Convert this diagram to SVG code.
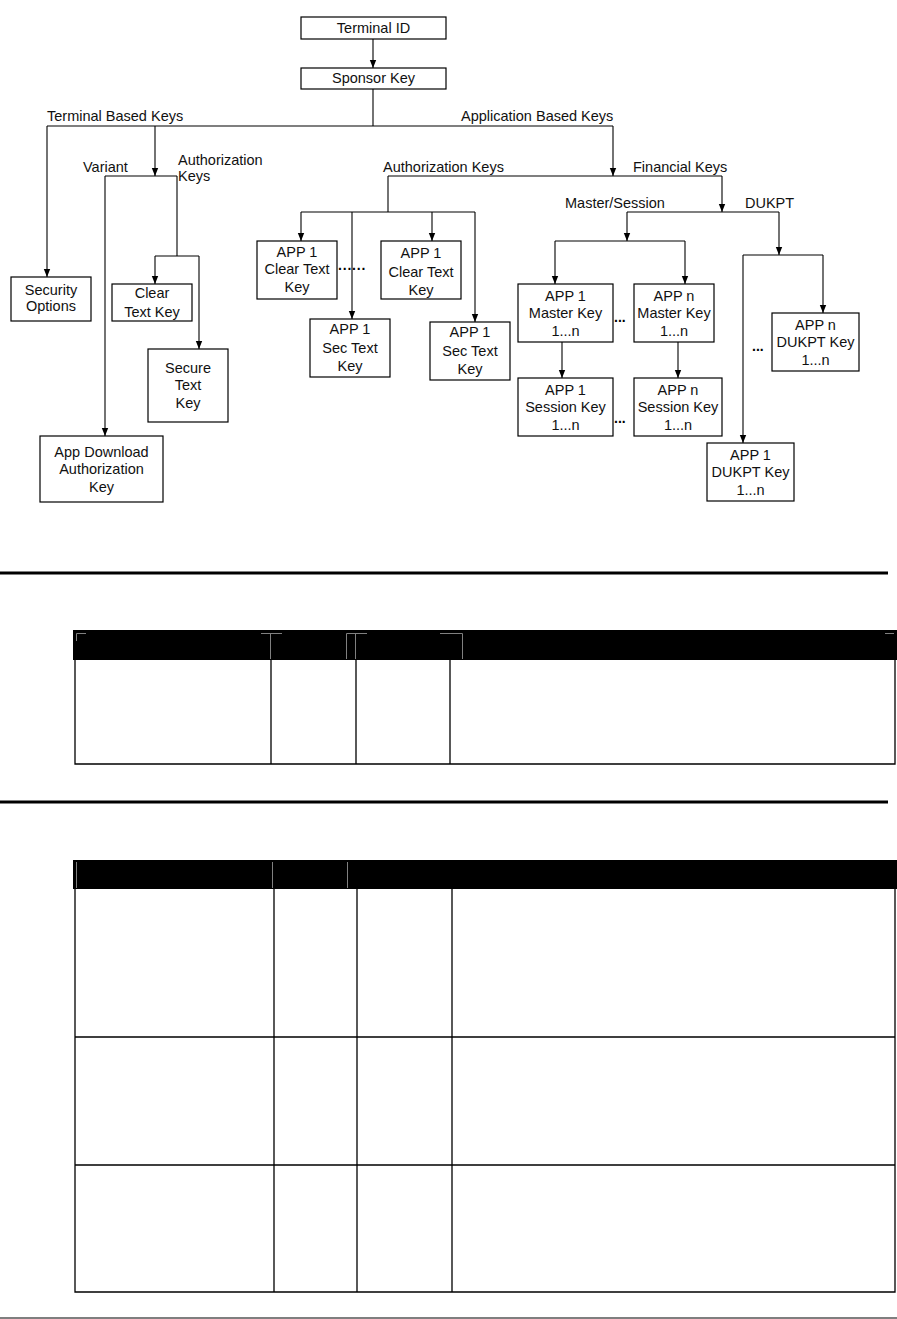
<svg xmlns="http://www.w3.org/2000/svg" width="897" height="1319" viewBox="0 0 897 1319">
<style>
.box{fill:#fff;stroke:#000;stroke-width:1.2}
.t{font-family:"Liberation Sans",Arial,sans-serif;font-size:14.5px;fill:#111}
.c{text-anchor:middle}
.d{font-family:"Liberation Sans",Arial,sans-serif;font-size:14px;font-weight:bold;fill:#000}
.ln{fill:none;stroke:#000;stroke-width:1.1}
.tl{fill:none;stroke:#000;stroke-width:1.3}
.gm{fill:none;stroke:#808080;stroke-width:1}
</style>
<defs>
<marker id="ah" viewBox="0 0 8 8" refX="8" refY="4" markerWidth="8" markerHeight="8" markerUnits="userSpaceOnUse" orient="auto">
<path d="M0,0.8 L8,4 L0,7.2 Z" fill="#000"/>
</marker>
</defs>
<rect width="897" height="1319" fill="#fff"/>

<g id="connectors">
<line class="ln" x1="373" y1="39" x2="373" y2="68" marker-end="url(#ah)"/>
<line class="ln" x1="373" y1="89" x2="373" y2="126"/>
<line class="ln" x1="47" y1="126" x2="613" y2="126"/>
<line class="ln" x1="47" y1="126" x2="47" y2="277" marker-end="url(#ah)"/>
<line class="ln" x1="155" y1="126" x2="155" y2="176" marker-end="url(#ah)"/>
<line class="ln" x1="105" y1="176" x2="177" y2="176"/>
<line class="ln" x1="105" y1="176" x2="105" y2="436" marker-end="url(#ah)"/>
<line class="ln" x1="177" y1="176" x2="177" y2="256"/>
<line class="ln" x1="155" y1="256" x2="199" y2="256"/>
<line class="ln" x1="155" y1="256" x2="155" y2="284" marker-end="url(#ah)"/>
<line class="ln" x1="199" y1="256" x2="199" y2="349" marker-end="url(#ah)"/>
<line class="ln" x1="613" y1="126" x2="613" y2="176" marker-end="url(#ah)"/>
<line class="ln" x1="388" y1="176" x2="722" y2="176"/>
<line class="ln" x1="388" y1="176" x2="388" y2="212"/>
<line class="ln" x1="301" y1="212" x2="475" y2="212"/>
<line class="ln" x1="301" y1="212" x2="301" y2="241" marker-end="url(#ah)"/>
<line class="ln" x1="352" y1="212" x2="352" y2="319" marker-end="url(#ah)"/>
<line class="ln" x1="432" y1="212" x2="432" y2="241" marker-end="url(#ah)"/>
<line class="ln" x1="475" y1="212" x2="475" y2="322" marker-end="url(#ah)"/>
<line class="ln" x1="722" y1="176" x2="722" y2="212" marker-end="url(#ah)"/>
<line class="ln" x1="627" y1="212" x2="779" y2="212"/>
<line class="ln" x1="627" y1="212" x2="627" y2="241" marker-end="url(#ah)"/>
<line class="ln" x1="555" y1="241" x2="685" y2="241"/>
<line class="ln" x1="555" y1="241" x2="555" y2="284" marker-end="url(#ah)"/>
<line class="ln" x1="685" y1="241" x2="685" y2="284" marker-end="url(#ah)"/>
<line class="ln" x1="562" y1="342" x2="562" y2="378" marker-end="url(#ah)"/>
<line class="ln" x1="678" y1="342" x2="678" y2="378" marker-end="url(#ah)"/>
<line class="ln" x1="779" y1="212" x2="779" y2="255" marker-end="url(#ah)"/>
<line class="ln" x1="743" y1="255" x2="823" y2="255"/>
<line class="ln" x1="823" y1="255" x2="823" y2="313" marker-end="url(#ah)"/>
<line class="ln" x1="743" y1="255" x2="743" y2="443" marker-end="url(#ah)"/>
</g>

<g id="labels">
<text class="t" x="47" y="121">Terminal Based Keys</text>
<text class="t" x="461" y="121">Application Based Keys</text>
<text class="t" x="83" y="172">Variant</text>
<text class="t" x="178" y="165">Authorization</text>
<text class="t" x="178" y="181">Keys</text>
<text class="t" x="383" y="172">Authorization Keys</text>
<text class="t" x="633" y="172">Financial Keys</text>
<text class="t" x="565" y="208">Master/Session</text>
<text class="t" x="745" y="208">DUKPT</text>
<text class="d" x="338" y="270" letter-spacing="0.8">......</text>
<text class="d" x="614" y="322">...</text>
<text class="d" x="614" y="423">...</text>
<text class="d" x="752" y="351">...</text>
</g>

<g id="terminal-id"><rect class="box" x="301" y="17" width="145" height="22"/><text class="t c" x="373.5" y="33">Terminal ID</text></g>
<g id="sponsor-key"><rect class="box" x="301" y="68" width="145" height="21"/><text class="t c" x="373.5" y="83">Sponsor Key</text></g>
<g id="security-options"><rect class="box" x="11" y="277" width="80" height="44"/><text class="t c" x="51" y="295">Security</text><text class="t c" x="51" y="311">Options</text></g>
<g id="clear-text-key"><rect class="box" x="112" y="284" width="80" height="37"/><text class="t c" x="152" y="298">Clear</text><text class="t c" x="152" y="317">Text Key</text></g>
<g id="secure-text-key"><rect class="box" x="148" y="349" width="80" height="73"/><text class="t c" x="188" y="373">Secure</text><text class="t c" x="188" y="390">Text</text><text class="t c" x="188" y="408">Key</text></g>
<g id="app-download"><rect class="box" x="40" y="436" width="123" height="66"/><text class="t c" x="101.5" y="457">App Download</text><text class="t c" x="101.5" y="474">Authorization</text><text class="t c" x="101.5" y="492">Key</text></g>
<g id="app1-clear-1"><rect class="box" x="257" y="241" width="80" height="58"/><text class="t c" x="297" y="257">APP 1</text><text class="t c" x="297" y="274">Clear Text</text><text class="t c" x="297" y="292">Key</text></g>
<g id="app1-sec-1"><rect class="box" x="310" y="319" width="80" height="58"/><text class="t c" x="350" y="334">APP 1</text><text class="t c" x="350" y="353">Sec Text</text><text class="t c" x="350" y="371">Key</text></g>
<g id="app1-clear-2"><rect class="box" x="381" y="241" width="80" height="58"/><text class="t c" x="421" y="258">APP 1</text><text class="t c" x="421" y="277">Clear Text</text><text class="t c" x="421" y="295">Key</text></g>
<g id="app1-sec-2"><rect class="box" x="430" y="322" width="80" height="58"/><text class="t c" x="470" y="337">APP 1</text><text class="t c" x="470" y="356">Sec Text</text><text class="t c" x="470" y="374">Key</text></g>
<g id="app1-master"><rect class="box" x="518" y="284" width="95" height="58"/><text class="t c" x="565.5" y="301">APP 1</text><text class="t c" x="565.5" y="318">Master Key</text><text class="t c" x="565.5" y="336">1...n</text></g>
<g id="appn-master"><rect class="box" x="634" y="284" width="80" height="58"/><text class="t c" x="674" y="301">APP n</text><text class="t c" x="674" y="318">Master Key</text><text class="t c" x="674" y="336">1...n</text></g>
<g id="app1-session"><rect class="box" x="518" y="378" width="95" height="58"/><text class="t c" x="565.5" y="395">APP 1</text><text class="t c" x="565.5" y="412">Session Key</text><text class="t c" x="565.5" y="430">1...n</text></g>
<g id="appn-session"><rect class="box" x="634" y="378" width="88" height="58"/><text class="t c" x="678" y="395">APP n</text><text class="t c" x="678" y="412">Session Key</text><text class="t c" x="678" y="430">1...n</text></g>
<g id="appn-dukpt"><rect class="box" x="772" y="313" width="87" height="58"/><text class="t c" x="815.5" y="330">APP n</text><text class="t c" x="815.5" y="347">DUKPT Key</text><text class="t c" x="815.5" y="365">1...n</text></g>
<g id="app1-dukpt"><rect class="box" x="707" y="443" width="87" height="58"/><text class="t c" x="750.5" y="460">APP 1</text><text class="t c" x="750.5" y="477">DUKPT Key</text><text class="t c" x="750.5" y="495">1...n</text></g>

<g id="table1">
<rect x="0" y="571.5" width="888" height="3" fill="#000"/>
<rect x="73" y="630" width="824" height="30" fill="#000"/>
<path class="gm" d="M76.5,641 V633.5 H86 M261,633.5 H282 M270.5,633.5 V659 M346.5,659 V633.5 H367 M355.5,633.5 V659 M440,633.5 H462.5 V659 M885,633.5 H894"/>
<path class="tl" d="M75,660 V764 H895 V660 M271,660 V764 M356,660 V764 M450,660 V764"/>
</g>

<g id="table2">
<rect x="0" y="800.5" width="888" height="3" fill="#000"/>
<rect x="73" y="860" width="824" height="29" fill="#000"/>
<path class="gm" d="M76.5,862 V888 M272.5,862 V888 M347.5,862 V888"/>
<path class="tl" d="M75,889 V1292 H895 V889 M274,889 V1292 M357,889 V1292 M452,889 V1292 M75,1037 H895 M75,1165 H895"/>
<rect x="0" y="1317.5" width="897" height="1" fill="#000"/>
</g>
</svg>
